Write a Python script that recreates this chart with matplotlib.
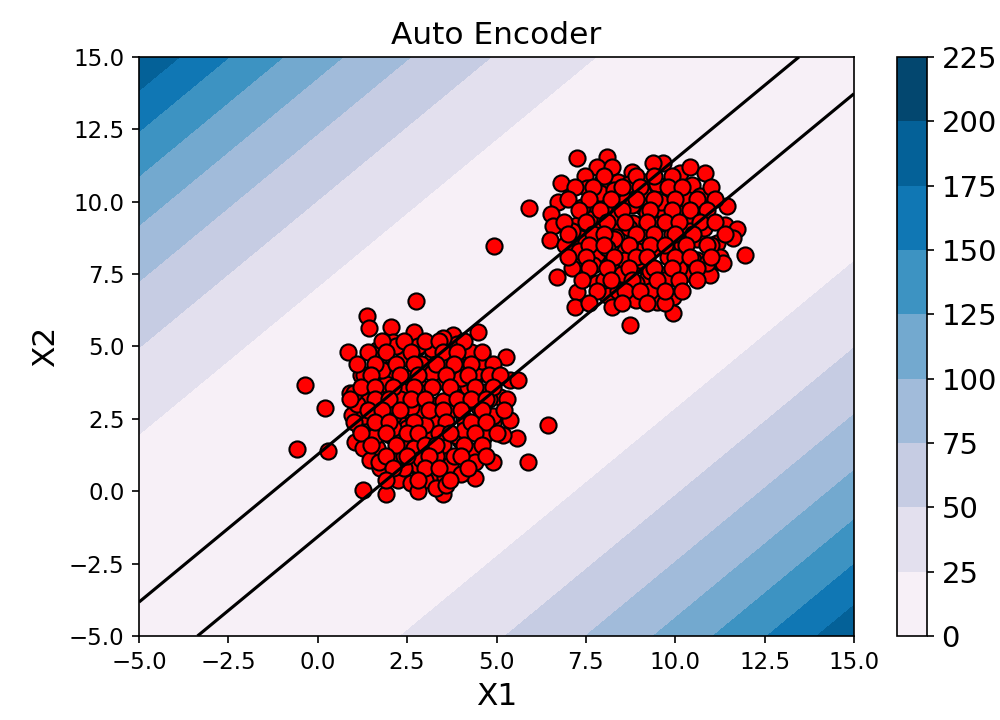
import numpy as np
import matplotlib
matplotlib.use("Agg")
import matplotlib.pyplot as plt

# Outlier score of the auto encoder: squared distance from the learned principal line
line_slope = 1.02
line_offset = -0.15
score_scale = 0.48
threshold = 0.968
score_levels = [0, 25, 50, 75, 100, 125, 150, 175, 200, 225]

# Samples of the lower-left cluster (X1, X2)
cluster_a = [
    (1.39, 6.06), (1.44, 5.63), (2.04, 5.68), (2.76, 6.56), (2.69, 5.51),
    (2.11, 5.17), (2.47, 4.94), (0.84, 4.80), (1.65, 4.88), (1.69, 4.53),
    (2.69, 4.53), (1.20, 4.02), (1.58, 4.15), (2.02, 4.02), (2.25, 3.73),
    (-0.36, 3.67), (0.90, 3.38), (1.37, 3.67), (1.79, 3.56), (2.39, 3.50),
    (0.20, 2.89), (1.35, 3.00), (1.85, 2.92), (2.63, 2.69), (0.95, 2.63),
    (2.25, 2.40), (1.74, 2.08), (1.18, 2.17), (1.04, 1.71), (1.37, 1.94),
    (2.02, 1.94), (2.56, 1.60), (-0.59, 1.46), (0.28, 1.39), (1.26, 1.48),
    (1.67, 1.48), (2.07, 1.19), (2.72, 0.91), (1.46, 1.08), (1.74, 0.79),
    (2.25, 0.39), (1.26, 0.04), (1.91, -0.11),
    (3.79, 5.40), (4.49, 5.49), (5.27, 4.65), (2.77, 4.94), (3.23, 4.71),
    (3.98, 4.88), (4.17, 4.48), (4.59, 4.71), (4.61, 4.07), (3.93, 3.90),
    (3.47, 4.07), (2.86, 3.61), (5.38, 3.84), (5.61, 3.84), (5.10, 3.27),
    (4.68, 3.44), (4.12, 3.09), (3.33, 2.98), (2.91, 2.75), (3.61, 2.69),
    (4.45, 2.35), (4.91, 2.35), (5.38, 2.46), (6.43, 2.29), (5.56, 1.85),
    (5.19, 1.94), (4.63, 1.83), (3.98, 1.77), (3.51, 1.83), (2.95, 1.94),
    (2.77, 1.48), (3.47, 1.16), (4.21, 1.14), (4.91, 1.02), (5.89, 1.02),
    (2.81, 0.91), (3.14, 0.45), (3.56, 0.50), (4.40, 0.45), (3.51, -0.11),
    # dense core
    (2.3, 3.2), (2.6, 3.9), (3.0, 3.4), (3.4, 3.8), (3.8, 3.3), (4.2, 3.6),
    (2.1, 2.6), (2.5, 2.2), (2.9, 2.7), (3.3, 2.4), (3.7, 2.8), (4.1, 2.5),
    (4.5, 2.9), (2.2, 1.8), (2.7, 1.5), (3.1, 1.9), (3.5, 1.6), (3.9, 1.9),
    (4.3, 1.4), (2.9, 1.1), (3.3, 1.2), (3.7, 0.9), (2.4, 0.8), (3.0, 0.4),
    (3.3, 0.1), (1.5, 2.4), (1.4, 3.1), (1.7, 3.4), (1.9, 2.9), (1.6, 1.9),
    (2.0, 4.2), (2.4, 4.6), (2.9, 4.4), (3.2, 4.9), (3.6, 4.5), (4.0, 4.3),
    (4.4, 4.1), (3.9, 5.1), (2.8, 5.0), (4.8, 3.2), (4.9, 2.6), (4.7, 2.0),
    (4.4, 1.0), (4.0, 0.6), (2.6, 0.3), (3.6, 0.2), (2.8, 0.0), (1.7, 1.0),
    (1.3, 2.6), (1.1, 3.0), (1.0, 3.4), (1.3, 4.0), (1.9, 3.7), (2.2, 5.0),
    (3.5, 5.3), (4.3, 4.8), (4.6, 4.5), (3.2, 4.1), (3.5, 3.1), (2.6, 2.9),
    (4.1, 2.1), (3.0, 2.3), (2.1, 2.2), (2.4, 1.2), (4.0, 3.9), (1.8, 4.2),
    (1.8, 5.2), (2.4, 5.2), (3.0, 5.2), (3.4, 5.2), (4.1, 5.2),
    (1.4, 4.8), (1.9, 4.8), (2.6, 4.8), (3.5, 4.8), (3.9, 4.8), (4.6, 4.8),
    (1.1, 4.4), (1.6, 4.4), (2.2, 4.4), (2.7, 4.4), (3.3, 4.4), (3.8, 4.4),
    (4.3, 4.4), (4.9, 4.4),
    (1.5, 4.0), (2.3, 4.0), (2.8, 4.0), (3.6, 4.0), (4.2, 4.0), (4.8, 4.0),
    (5.1, 4.0),
    (1.2, 3.6), (1.6, 3.6), (2.1, 3.6), (2.7, 3.6), (3.2, 3.6), (3.7, 3.6),
    (4.4, 3.6), (4.9, 3.6),
    (0.9, 3.2), (1.6, 3.2), (2.0, 3.2), (2.6, 3.2), (3.0, 3.2), (3.9, 3.2),
    (4.3, 3.2), (4.7, 3.2), (5.3, 3.2),
    (1.4, 2.8), (1.8, 2.8), (2.3, 2.8), (3.1, 2.8), (3.5, 2.8), (4.0, 2.8),
    (4.6, 2.8), (5.2, 2.8),
    (1.0, 2.4), (1.6, 2.4), (2.0, 2.4), (2.7, 2.4), (3.6, 2.4), (4.3, 2.4),
    (4.7, 2.4),
    (1.2, 2.0), (1.9, 2.0), (2.5, 2.0), (2.8, 2.0), (3.4, 2.0), (3.7, 2.0),
    (4.4, 2.0), (5.0, 2.0),
    (1.5, 1.6), (2.2, 1.6), (3.0, 1.6), (3.3, 1.6), (4.1, 1.6), (4.6, 1.6),
    (1.9, 1.2), (2.5, 1.2), (3.1, 1.2), (3.8, 1.2), (4.0, 1.2), (4.7, 1.2),
    (2.1, 0.8), (3.0, 0.8), (3.4, 0.8), (4.2, 0.8),
    (1.9, 0.4), (2.8, 0.4), (3.7, 0.4),
]

# Samples of the upper-right cluster (X1, X2)
cluster_b = [
    (7.24, 11.50), (8.08, 11.55), (7.82, 11.21), (8.22, 11.21), (8.78, 11.04),
    (7.48, 10.89), (6.80, 10.64), (7.94, 10.69), (8.41, 10.69), (7.52, 10.46),
    (6.73, 10.00), (5.91, 9.79), (7.97, 10.12), (8.50, 10.23), (9.01, 9.89),
    (7.54, 9.77), (6.52, 9.58), (6.57, 9.16), (7.24, 9.20), (7.94, 9.37),
    (8.36, 9.20), (8.83, 9.26), (6.50, 8.68), (6.92, 8.51), (7.34, 8.74),
    (8.34, 8.79), (8.87, 8.45), (7.43, 7.93), (8.13, 7.93), (8.92, 7.82),
    (7.10, 7.70), (6.68, 7.41), (7.82, 7.18), (8.55, 7.41), (7.24, 6.89),
    (8.08, 6.78), (7.20, 6.37), (8.22, 6.37), (8.73, 5.74),
    (9.67, 11.35), (9.39, 11.33), (10.13, 10.98), (10.41, 11.21), (10.83, 10.98),
    (10.46, 10.58), (9.15, 10.69), (9.71, 10.23), (10.27, 10.06), (11.44, 9.85),
    (9.11, 9.83), (9.67, 9.72), (10.64, 9.54), (9.20, 9.20), (9.95, 9.14),
    (10.55, 8.97), (11.39, 9.20), (11.72, 9.05), (11.16, 8.56), (11.62, 8.74),
    (11.95, 8.16), (11.25, 8.10), (9.15, 8.45), (9.85, 8.05), (10.60, 7.99),
    (10.88, 7.76), (11.34, 7.87), (10.97, 7.47), (10.32, 7.53), (9.62, 7.47),
    (9.25, 7.41), (9.95, 6.72), (9.48, 6.55), (9.95, 6.17), (9.11, 6.84),
    # dense core
    (7.6, 9.4), (8.0, 9.8), (8.4, 9.5), (8.8, 9.9), (9.2, 9.6), (9.6, 10.0),
    (10.0, 9.7), (7.5, 8.6), (7.9, 9.0), (8.3, 8.7), (8.7, 9.1), (9.1, 8.8),
    (9.5, 9.2), (9.9, 8.9), (10.3, 9.3), (7.8, 8.2), (8.2, 7.9), (8.6, 8.3),
    (9.0, 8.0), (9.4, 8.4), (9.8, 8.1), (10.2, 8.5), (10.6, 8.7), (8.5, 7.5),
    (8.9, 7.2), (9.3, 7.6), (9.7, 7.3), (10.1, 7.7), (8.0, 7.3), (8.4, 6.9),
    (8.9, 6.6), (9.3, 6.9), (9.7, 6.5), (7.7, 7.8), (7.3, 8.3), (7.1, 9.0),
    (7.4, 9.8), (7.9, 10.3), (8.3, 10.4), (8.7, 10.6), (9.1, 10.3), (9.5, 10.6),
    (9.9, 10.4), (10.3, 10.1), (10.7, 10.2), (10.4, 9.0), (10.8, 9.1),
    (11.0, 8.5), (10.5, 8.0), (10.9, 7.9), (8.1, 8.4), (9.3, 9.9), (8.6, 8.0),
    (8.0, 10.9), (8.9, 10.9), (9.4, 10.9), (9.9, 10.9),
    (7.2, 10.5), (7.7, 10.5), (8.5, 10.5), (9.0, 10.5), (9.8, 10.5),
    (10.2, 10.5), (11.0, 10.5),
    (7.0, 10.1), (7.6, 10.1), (8.2, 10.1), (8.9, 10.1), (9.4, 10.1),
    (10.0, 10.1), (10.6, 10.1), (11.1, 10.1),
    (7.3, 9.7), (7.9, 9.7), (8.5, 9.7), (9.3, 9.7), (9.9, 9.7), (10.4, 9.7),
    (10.9, 9.7),
    (6.9, 9.3), (7.5, 9.3), (8.1, 9.3), (8.6, 9.3), (9.2, 9.3), (9.7, 9.3),
    (10.1, 9.3), (10.7, 9.3), (11.1, 9.3),
    (7.0, 8.9), (7.7, 8.9), (8.0, 8.9), (8.9, 8.9), (9.4, 8.9), (10.0, 8.9),
    (10.5, 8.9), (11.4, 8.9),
    (7.6, 8.5), (8.0, 8.5), (8.7, 8.5), (9.3, 8.5), (9.7, 8.5), (10.3, 8.5),
    (10.9, 8.5),
    (7.0, 8.1), (7.5, 8.1), (8.3, 8.1), (8.9, 8.1), (9.2, 8.1), (10.0, 8.1),
    (10.4, 8.1), (11.0, 8.1),
    (7.6, 7.7), (8.1, 7.7), (8.7, 7.7), (9.4, 7.7), (9.9, 7.7), (10.6, 7.7),
    (7.4, 7.3), (8.2, 7.3), (8.8, 7.3), (9.5, 7.3), (10.1, 7.3), (10.6, 7.3),
    (7.8, 6.9), (8.6, 6.9), (9.0, 6.9), (9.7, 6.9), (10.2, 6.9),
    (7.6, 6.5), (8.5, 6.5), (9.2, 6.5),
]

# Isolated sample between the clusters
stray_points = [(4.93, 8.47)]

x_range = (-5.0, 15.0)
y_range = (-5.0, 15.0)
x_ticks = [-5.0, -2.5, 0.0, 2.5, 5.0, 7.5, 10.0, 12.5, 15.0]
y_ticks = [-5.0, -2.5, 0.0, 2.5, 5.0, 7.5, 10.0, 12.5, 15.0]

fig = plt.figure(figsize=(1000 / 150, 720 / 150), dpi=150)
ax = fig.add_axes([0.139, 0.1167, 0.715, 0.8042])
cax = fig.add_axes([0.897, 0.1167, 0.030, 0.8042])

xx, yy = np.meshgrid(np.linspace(*x_range, 300), np.linspace(*y_range, 300))
zz = score_scale * (yy - line_slope * xx - line_offset) ** 2

filled = ax.contourf(xx, yy, zz, levels=score_levels, cmap="PuBu")
ax.contour(xx, yy, zz, levels=[threshold], colors="black", linewidths=1.5, zorder=4)

pts = np.array(cluster_a + cluster_b + stray_points)
ax.scatter(pts[:, 0], pts[:, 1], s=60, c="#ff0000", edgecolors="black",
           linewidths=1.0, zorder=3)

ax.set_xlim(*x_range)
ax.set_ylim(*y_range)
ax.set_xticks(x_ticks)
ax.set_yticks(y_ticks)
ax.tick_params(labelsize=11)
ax.set_xlabel("X1", fontsize=15)
ax.set_ylabel("X2", fontsize=15)
ax.set_title("Auto Encoder", fontsize=15)

cbar = fig.colorbar(filled, cax=cax)
cbar.set_ticks(score_levels)
cbar.ax.tick_params(labelsize=14)

fig.savefig("out.png", dpi=150)
